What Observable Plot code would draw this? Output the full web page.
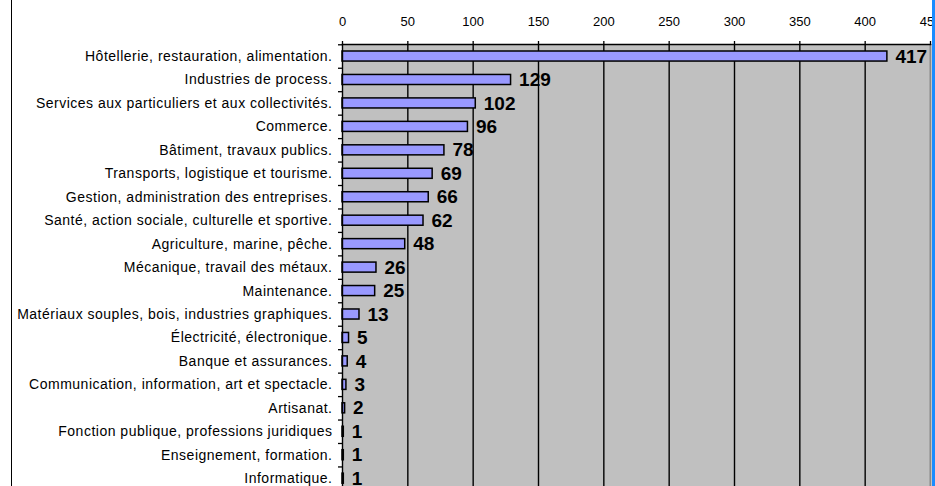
<!DOCTYPE html>
<html>
<head>
<meta charset="utf-8">
<script src="https://cdn.jsdelivr.net/npm/d3@7"></script>
<script src="https://cdn.jsdelivr.net/npm/@observablehq/plot@0.6"></script>
<style>
  html, body { margin: 0; padding: 0; background: #fff; }
  #wrap { position: relative; width: 935px; height: 486px; overflow: hidden; }
  #wrap svg { display: block; }
  #wrap svg g[aria-label="y-axis tick label"] text { letter-spacing: 0.5px; }
  .lborder { position: absolute; left: 11px; top: 0; width: 1px; height: 486px; background: #000; }
  .rborder { position: absolute; left: 932px; top: 0; width: 3px; height: 486px; background: #1a8cff; }
</style>
</head>
<body>
<div id="wrap"><div class="lborder"></div><div class="rborder"></div></div>
<script>
const categories = [
  "Hôtellerie, restauration, alimentation.",
  "Industries de process.",
  "Services aux particuliers et aux collectivités.",
  "Commerce.",
  "Bâtiment, travaux publics.",
  "Transports, logistique et tourisme.",
  "Gestion, administration des entreprises.",
  "Santé, action sociale, culturelle et sportive.",
  "Agriculture, marine, pêche.",
  "Mécanique, travail des métaux.",
  "Maintenance.",
  "Matériaux souples, bois, industries graphiques.",
  "Électricité, électronique.",
  "Banque et assurances.",
  "Communication, information, art et spectacle.",
  "Artisanat.",
  "Fonction publique, professions juridiques",
  "Enseignement, formation.",
  "Informatique."
];
const values = [417, 129, 102, 96, 78, 69, 66, 62, 48, 26, 25, 13, 5, 4, 3, 2, 1, 1, 1];
const xTicks = [0, 50, 100, 150, 200, 250, 300, 350, 400, 450];

const data = categories.map((c, i) => ({category: c, value: values[i]}));

const yTop = 44.3, yBottom = 489.9;
const step = (yBottom - yTop) / categories.length;

const chart = Plot.plot({
  width: 935,
  height: 486,
  marginLeft: 342,
  marginRight: 5,
  marginTop: 44,
  marginBottom: 0,
  style: {fontFamily: "'Liberation Sans', Arial, sans-serif", fontSize: "13px", color: "#000", background: "transparent", overflow: "hidden"},
  x: {domain: [0, 450], ticks: xTicks},
  y: {domain: categories, range: [yTop, yBottom], padding: 0, round: false},
  marks: [
    Plot.frame({fill: "#C0C0C0", stroke: null}),
    Plot.gridX(xTicks.filter(t => t > 0 && t < 450), {stroke: "#000", strokeOpacity: 1, strokeWidth: 1.4}),
    Plot.gridX([450], {stroke: "#888", strokeOpacity: 1, strokeWidth: 2}),
    Plot.barX(data, {x: "value", y: "category", fill: "#9999FF", stroke: "#000", strokeWidth: 1.5, insetTop: 6.7, insetBottom: 6.7}),
    Plot.text(data, {x: "value", y: "category", text: d => String(d.value), textAnchor: "start", dx: 8, fontWeight: "bold", fontSize: 19, fill: "#000"}),
    Plot.axisX(xTicks, {anchor: "top", tickSize: 4, tickPadding: 15, label: null, stroke: "#000", strokeWidth: 1.3, fontSize: 13}),
    Plot.frame({anchor: "top", stroke: "#000", strokeWidth: 1.4}),
    Plot.axisY({tickSize: 0, tickPadding: 10, label: null, fontSize: 14}),
    Plot.axisY({tickSize: 4, text: null, dy: -step / 2, label: null, stroke: "#000", strokeWidth: 1.3}),
    Plot.frame({anchor: "left", stroke: "#000", strokeWidth: 1.4})
  ]
});
document.getElementById("wrap").prepend(chart);
</script>
</body>
</html>
